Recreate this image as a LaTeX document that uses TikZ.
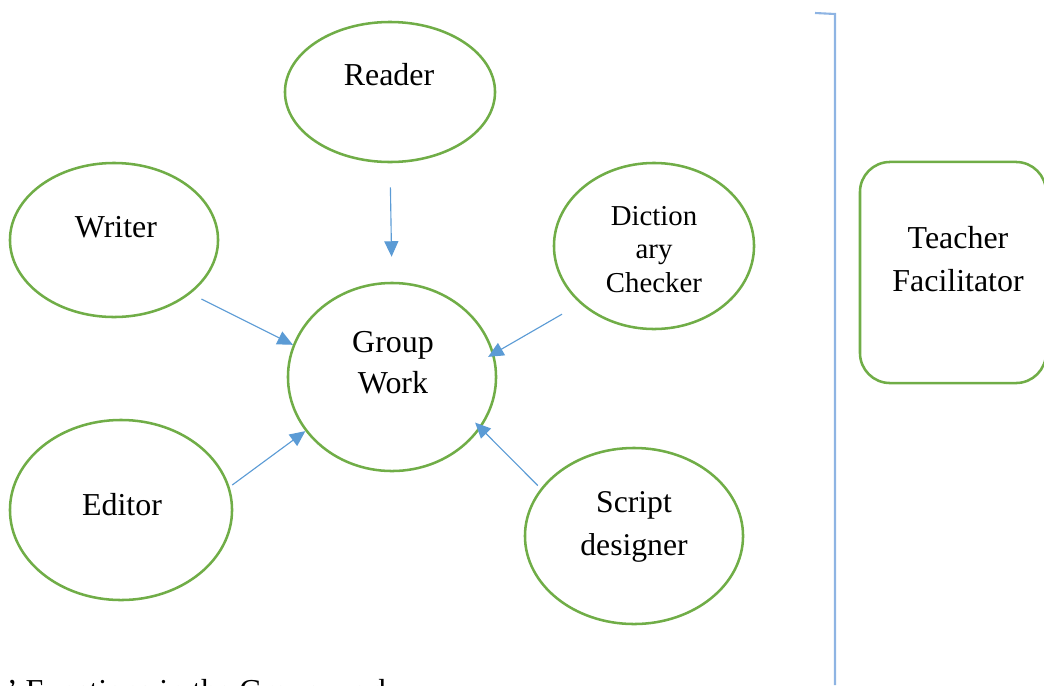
\documentclass[tikz,border=0pt]{standalone}
\usepackage{fontspec}
\setmainfont{Liberation Serif}
\usetikzlibrary{shapes.geometric,arrows.meta}
\definecolor{rolegreen}{HTML}{70AD47}
\definecolor{arrowblue}{HTML}{5B9BD5}
\definecolor{barblue}{HTML}{8EB4E3}

\begin{document}
\begin{tikzpicture}
        [x=0.025cm,y=-0.025cm,
         role/.style={ellipse,draw=rolegreen,line width=1.8pt,inner sep=0pt},
         lbl/.style={anchor=base,align=center,font=\fontsize{22.7}{29}\selectfont},
         arr/.style={color=arrowblue,line width=0.8pt,-{Triangle[length=11pt,width=10pt]}}]
        \useasboundingbox (0,0) rectangle (1044,685);

        % roles round the group
        \node[role,minimum width=5.25cm,minimum height=3.5cm] (reader) at (390,92) {};
        \node[role,minimum width=5.2cm,minimum height=3.85cm] (writer) at (114,240) {};
        \node[role,minimum width=5cm,minimum height=4.15cm] (dict) at (654,246) {};
        \node[role,minimum width=5.2cm,minimum height=4.7cm] (group) at (392,377) {};
        \node[role,minimum width=5.55cm,minimum height=4.5cm] (editor) at (121,510) {};
        \node[role,minimum width=5.45cm,minimum height=4.4cm] (script) at (634,536) {};
        \node[draw=rolegreen,line width=1.8pt,rounded corners=0.75cm,
              minimum width=4.65cm,minimum height=5.525cm] (teacher) at (953,272.5) {};

        % texts (base = last line)
        \node[lbl] (readertxt) at (389,85) {Reader};
        \node[lbl] (writertxt) at (116,237) {Writer};
        \node[lbl,font=\fontsize{20.5}{23.5}\selectfont] (dicttxt) at (654,292) {Diction\\ary\\Checker};
        \node[lbl] (grouptxt) at (393,393) {Group\\Work};
        \node[lbl] (editortxt) at (122,515) {Editor};
        \node[lbl,font=\fontsize{22.5}{30}\selectfont] (scripttxt) at (634,555) {Script\\designer};
        \node[lbl,font=\fontsize{22.7}{30.5}\selectfont] (teachertxt) at (958,291) {Teacher\\Facilitator};
        \node[lbl,anchor=base west] (caption) at (2,701) {’ Functions in the Group work};

        % arrows into the group
        \draw[arr,shorten <=0.6cm,shorten >=0.625cm] (reader.south) -- (group.north);
        \draw[arr,shorten <=0.3cm] (writer.-35) -- (group.162);
        \draw[arr,shorten <=0.525cm,shorten >=-0.17cm] (dict.218.6) -- (group.13);
        \draw[arr,shorten <=0.08cm] (editor.12) -- (group.212);
        \draw[arr,shorten <=0.1cm,shorten >=-0.2cm] (script.153) -- (group.-30);

        % bracket line
        \draw[barblue,line width=1.5pt] (815,13) -- (835,14) -- (835,685);
    \end{tikzpicture}
\end{document}
